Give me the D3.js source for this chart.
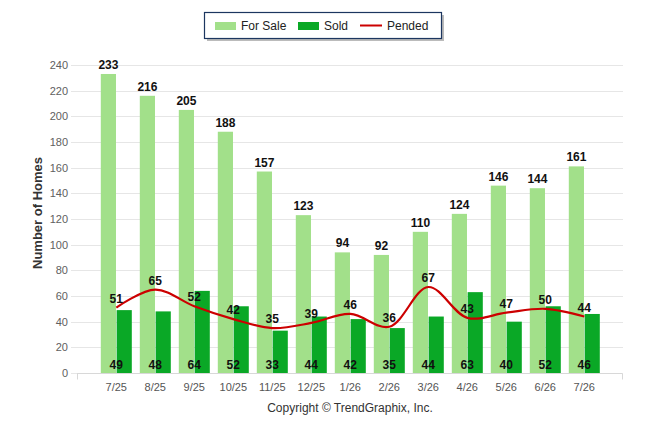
<!DOCTYPE html>
<html>
<head>
<meta charset="utf-8">
<script src="https://cdn.jsdelivr.net/npm/d3@7"></script>
<style>
  body { margin: 0; background: #fff; }
  svg { font-family: "Liberation Sans", Arial, sans-serif; }
</style>
</head>
<body>
<svg id="chart" width="646" height="434"></svg>
<script>
// data
const months  = ["7/25","8/25","9/25","10/25","11/25","12/25","1/26","2/26","3/26","4/26","5/26","6/26","7/26"];
const forSale = [233, 216, 205, 188, 157, 123, 94, 92, 110, 124, 146, 144, 161];
const sold    = [49, 48, 64, 52, 33, 44, 42, 35, 44, 63, 40, 52, 46];
const pended  = [51, 65, 52, 42, 35, 39, 46, 36, 67, 43, 47, 50, 44];
const yTicks  = [0, 20, 40, 60, 80, 100, 120, 140, 160, 180, 200, 220, 240];

const colors = { forSale: "#a2e08a", sold: "#0aa826", pended: "#cc0000" };

const svg = d3.select("#chart");

const rows = months.map((m, i) => ({ m, forSale: forSale[i], sold: sold[i], pended: pended[i] }));

const x = d3.scaleBand().domain(months).range([96.8, 603.8]).padding(0);
const x1 = d3.scaleBand().domain(["forSale", "sold"]).range([4, 35]).paddingInner(0.04);
const y = d3.scaleLinear().domain([0, 240]).range([373, 65]);
const cx = m => x(m) + x.bandwidth() / 2;

// gridlines
svg.append("g").selectAll("line")
  .data(yTicks)
  .enter().append("line")
    .attr("x1", 71).attr("x2", 623)
    .attr("y1", d => Math.round(y(d)) + 0.5)
    .attr("y2", d => Math.round(y(d)) + 0.5)
    .attr("stroke", "#e6e6e6");

// y axis labels
svg.append("g").selectAll("text")
  .data(yTicks)
  .enter().append("text")
    .attr("x", 68)
    .attr("y", d => y(d) + 4)
    .attr("text-anchor", "end")
    .style("font-size", "11px")
    .style("fill", "#606060")
    .text(d => d);

// x axis line + end ticks
const axisY = Math.round(y(0)) + 0.5;
svg.append("line")
  .attr("x1", 77).attr("x2", 622).attr("y1", axisY).attr("y2", axisY)
  .attr("stroke", "#d8d8d8");
[77.5, 622.5].forEach(t => {
  svg.append("line")
    .attr("x1", t).attr("x2", t).attr("y1", axisY).attr("y2", axisY + 6)
    .attr("stroke", "#d8d8d8");
});

// x labels
svg.append("g").selectAll("text")
  .data(months)
  .enter().append("text")
    .attr("x", d => cx(d))
    .attr("y", 391)
    .attr("text-anchor", "middle")
    .style("font-size", "11px")
    .style("fill", "#555")
    .text(d => d);

// bars
const groups = svg.append("g").selectAll("g")
  .data(rows)
  .enter().append("g")
    .attr("transform", d => `translate(${x(d.m)},0)`);

groups.selectAll("rect")
  .data(d => ["forSale", "sold"].map(k => ({ k, v: d[k] })))
  .enter().append("rect")
    .attr("x", d => x1(d.k))
    .attr("width", x1.bandwidth())
    .attr("y", d => y(d.v))
    .attr("height", d => y(0) - y(d.v))
    .attr("fill", d => colors[d.k]);

// pended line
const line = d3.line()
  .x(d => cx(d.m))
  .y(d => y(d.pended))
  .curve(d3.curveCatmullRom);

svg.append("path")
  .datum(rows)
  .attr("d", line)
  .attr("fill", "none")
  .attr("stroke", colors.pended)
  .attr("stroke-width", 2.2);

// value labels
function label(sel) {
  return sel
    .attr("text-anchor", "middle")
    .style("font-size", "12px")
    .style("font-weight", "bold")
    .style("fill", "#111");
}

svg.append("g").selectAll("text")
  .data(rows)
  .enter().append("text")
    .attr("x", d => x(d.m) + x1("forSale") + x1.bandwidth() / 2)
    .attr("y", d => y(d.forSale) - 5)
    .call(label)
    .text(d => d.forSale);

svg.append("g").selectAll("text")
  .data(rows)
  .enter().append("text")
    .attr("x", d => cx(d.m))
    .attr("y", y(0) - 4)
    .call(label)
    .text(d => d.sold);

svg.append("g").selectAll("text")
  .data(rows)
  .enter().append("text")
    .attr("x", d => cx(d.m))
    .attr("y", d => y(d.pended) - 5)
    .call(label)
    .text(d => d.pended);

// y axis title
svg.append("text")
  .attr("transform", "translate(42,213) rotate(-90)")
  .attr("text-anchor", "middle")
  .style("font-size", "13px")
  .style("font-weight", "bold")
  .style("fill", "#333")
  .text("Number of Homes");

// legend
const lg = svg.append("g");
lg.append("rect")
  .attr("x", 207).attr("y", 15).attr("width", 237).attr("height", 26)
  .attr("fill", "#bbb");
lg.append("rect")
  .attr("x", 204.5).attr("y", 12.5).attr("width", 237).attr("height", 26)
  .attr("fill", "#fff")
  .attr("stroke", "#1c3660")
  .attr("stroke-width", 1.2);
lg.append("rect").attr("x", 215).attr("y", 22).attr("width", 21).attr("height", 8).attr("fill", colors.forSale);
lg.append("rect").attr("x", 298).attr("y", 22).attr("width", 21).attr("height", 8).attr("fill", colors.sold);
lg.append("line").attr("x1", 360).attr("x2", 382).attr("y1", 25.5).attr("y2", 25.5)
  .attr("stroke", colors.pended).attr("stroke-width", 2);
[["For Sale", 241], ["Sold", 324], ["Pended", 387]].forEach(([t, lx]) => {
  lg.append("text")
    .attr("x", lx).attr("y", 30)
    .style("font-size", "12px")
    .style("fill", "#222")
    .text(t);
});

// footer
svg.append("text")
  .attr("x", 350).attr("y", 412)
  .attr("text-anchor", "middle")
  .style("font-size", "12px")
  .style("fill", "#333")
  .text("Copyright \u00a9 TrendGraphix, Inc.");
</script>
</body>
</html>
